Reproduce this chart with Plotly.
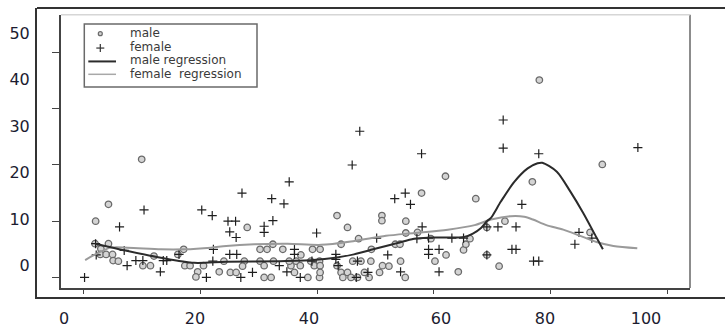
import plotly.graph_objects as go

W, H = 725, 328

# ---------------- data ----------------
male_x = [9.9, 4.2, 2.0, 1.9, 4.2, 2.9, 2.8, 3.8, 4.9, 5.0, 5.9, 10.1, 11.4, 12.0, 16.1, 17.1, 17.3, 18.2, 19.5, 19.2, 20.5, 23.2,
          28.0, 24.0, 25.1, 26.1, 27.5, 27.2, 30.2, 31.4, 32.4, 34.1, 30.2, 32.5, 30.9, 35.5, 35.2, 36.4, 37.1, 36.1, 37.2, 30.9,
          32.1, 38.4, 40.4, 39.2, 40.5, 38.9, 40.4, 39.5, 40.5, 40.5, 43.4, 45.2, 44.1, 43.4, 44.1, 45.2, 44.4, 45.8, 46.9, 47.1,
          46.1, 47.5, 48.1, 49.3, 49.2, 48.9, 50.7, 51.1, 51.1, 51.2,
          62.0, 57.9, 67.2, 55.2, 55.2, 57.2, 53.4, 54.2, 54.3, 52.3, 55.1, 60.2, 62.1, 65.1, 65.5, 66.2, 64.2, 69.1, 69.1, 72.2,
          71.2, 76.9, 88.9, 78.1, 86.8, 59.5]
male_y = [21.0, 13.0, 10.0, 6.0, 6.0, 5.1, 4.1, 4.1, 4.1, 3.0, 2.9, 2.1, 2.1, 3.8, 4.1, 5.0, 2.1, 2.1, 1.0, 0.1, 2.1, 1.0,
          8.9, 2.9, 0.9, 0.9, 2.9, 2.0, 5.0, 5.0, 5.9, 5.0, 2.9, 2.9, 2.1, 2.1, 2.9, 2.9, 2.1, 0.9, 4.0, 0.0,
          0.0, 0.0, 0.0, 5.0, 5.0, 2.9, 2.9, 2.1, 2.1, 0.9, 11.0, 8.9, 5.9, 2.1, 0.9, 0.9, 0.0, 0.0, 0.0, 6.9,
          2.9, 2.9, 0.9, 5.0, 2.9, 0.0, 0.9, 11.0, 10.1, 2.1,
          18.0, 15.0, 14.0, 10.0, 7.9, 8.0, 5.9, 5.9, 2.9, 2.0, 0.0, 2.9, 4.0, 4.9, 5.9, 6.9, 1.0, 8.9, 4.0, 10.0,
          2.0, 17.0, 20.1, 35.1, 8.0, 6.9]

female_x = [0.1, 2.0, 2.1, 6.1, 6.9, 7.4, 8.9, 10.1, 10.3, 13.1, 13.6, 14.2, 16.3, 20.2, 22.0, 21.0, 22.1, 22.2,
            24.7, 26.0, 25.0, 26.1, 25.0, 26.2, 26.9, 27.1, 28.9, 30.9, 30.9, 32.2, 32.4, 33.5, 34.3, 34.8, 35.2, 36.1,
            36.1, 37.1, 39.9, 43.2, 43.2, 46.0, 46.7, 47.3, 48.7, 50.2, 46.9, 39.1, 43.6,
            53.3, 55.1, 56.0, 57.9, 58.0, 52.1, 54.3, 57.1, 59.1, 63.1, 65.1, 59.1, 60.9, 59.1, 60.9, 69.1, 69.1, 71.0,
            74.1, 71.9, 71.9, 73.4, 74.1, 75.1, 77.1, 78.0, 78.0, 84.2, 84.9, 87.1, 95.0]
female_y = [0.0, 6.0, 4.0, 9.0, 4.8, 2.1, 3.0, 3.0, 12.0, 1.0, 3.0, 3.0, 4.1, 12.0, 11.0, 0.0, 2.9, 5.0,
            10.0, 10.0, 8.1, 7.1, 4.1, 4.1, 0.0, 15.0, 0.9, 9.1, 8.0, 14.0, 10.1, 2.1, 13.1, 1.0, 17.0, 5.0,
            4.1, 0.0, 7.9, 4.1, 3.2, 20.0, 0.0, 26.0, 0.9, 7.0, 2.9, 2.9, 2.1,
            14.0, 15.0, 13.0, 22.0, 9.0, 4.0, 1.0, 6.9, 7.0, 7.0, 7.0, 5.0, 5.0, 4.1, 1.0, 4.0, 9.0, 9.0,
            9.0, 23.0, 28.0, 5.0, 5.0, 13.0, 2.9, 2.9, 22.0, 5.9, 8.0, 7.0, 23.1]

male_reg_x = [1.9, 7.5, 13.2, 18.9, 24.4, 33.6, 39.3, 43.1, 46.3, 49.6, 51.8, 53.7, 56.6, 59.5, 65.2, 66.7, 68.1,
              69.1, 69.8, 71.5, 73.8, 76.1, 77.8, 78.6, 81.1, 83.4, 85.6, 87.9, 89.0]
male_reg_y = [6.0, 4.7, 3.5, 2.6, 2.8, 2.9, 3.1, 3.5, 4.1, 5.0, 5.6, 6.1, 6.9, 7.1, 7.2, 7.8, 8.8,
              10.0, 10.6, 13.5, 17.0, 19.4, 20.3, 20.4, 18.8, 15.3, 11.5, 7.1, 5.0]

female_reg_x = [0.2, 2.1, 4.6, 7.5, 13.2, 17.2, 21.8, 24.4, 29.2, 34.9, 40.7, 46.4, 51.8, 56.7, 62.4, 67.0, 69.8,
                73.2, 75.5, 77.0, 79.3, 82.2, 85.1, 87.9, 90.8, 94.9]
female_reg_y = [3.1, 4.2, 5.3, 5.3, 5.0, 5.0, 5.3, 5.6, 5.9, 6.0, 5.8, 6.5, 7.4, 7.9, 8.5, 9.3, 10.3,
                10.9, 10.8, 10.3, 9.3, 8.5, 7.4, 6.3, 5.6, 5.2]

x_tick_labels = ["0", "20", "40", "60", "80", "100"]
y_tick_values = [0, 10, 20, 30, 40, 50]
y_tick_labels = ["0", "10", "20", "30", "40", "50"]
inner_x_ticks = [0, 20, 40, 60, 80, 100]
inner_y_ticks = [0, 10, 20, 30, 40]
legend_labels = ["male", "female", "male regression", "female\u00a0 regression"]

# ---------------- layout helpers (pixel -> paper) ----------------
def px(x):
    return x / W

def py(y):
    return 1 - y / H

OUTER_X_LABEL_PX = [64, 195, 309, 441, 545, 646]
FONT = "DejaVu Sans"

fig = go.Figure()
fig.add_trace(go.Scatter(x=male_x, y=male_y, mode="markers", name="male", showlegend=False,
                         marker=dict(symbol="circle", size=6.5, color="#d4d4d4",
                                     line=dict(color="#6a6a6a", width=1.3))))
fig.add_trace(go.Scatter(x=female_x, y=female_y, mode="markers", name="female", showlegend=False,
                         marker=dict(symbol="cross-thin", size=6.5, color="#1e1e1e",
                                     line=dict(color="#1e1e1e", width=1.2))))
fig.add_trace(go.Scatter(x=female_reg_x, y=female_reg_y, mode="lines", name="female regression",
                         showlegend=False, line=dict(color="#9a9a9a", width=2, shape="spline", smoothing=0.8)))
fig.add_trace(go.Scatter(x=male_reg_x, y=male_reg_y, mode="lines", name="male regression",
                         showlegend=False, line=dict(color="#2b2b2b", width=2, shape="spline", smoothing=0.8)))
# empty trace for the outer (label) axes
fig.add_trace(go.Scatter(x=[], y=[], xaxis="x2", yaxis="y2", showlegend=False))

legend_y_px = [33.5, 47.0, 60.5, 75.0]

shapes = [
    # outer top line
    dict(type="line", xref="x2 domain", yref="y2 domain", x0=0, x1=1, y0=1, y1=1,
         line=dict(color="#333333", width=2)),
    # inner right and top lines
    dict(type="line", xref="x domain", yref="y domain", x0=1, x1=1, y0=0, y1=1,
         line=dict(color="#8c8c8c", width=2)),
    dict(type="line", xref="x domain", yref="y domain", x0=0, x1=1, y0=1, y1=1,
         line=dict(color="#d6d6d6", width=1.5)),
    # legend box
    dict(type="rect", xref="paper", yref="paper", x0=px(84.3), x1=px(257), y0=py(87.7), y1=py(24.3),
         line=dict(color="#6a6a6a", width=1.5), fillcolor="white"),
    # legend glyphs
    dict(type="circle", xref="paper", yref="paper", x0=px(98.3), x1=px(102.3),
         y0=py(legend_y_px[0] + 2.5), y1=py(legend_y_px[0] - 1.5),
         line=dict(color="#6a6a6a", width=1.2), fillcolor="#d2d2d2"),
    dict(type="line", xref="paper", yref="paper", x0=px(96.3), x1=px(104.3),
         y0=py(legend_y_px[1] + 1.5), y1=py(legend_y_px[1] + 1.5),
         line=dict(color="#333333", width=1.2)),
    dict(type="line", xref="paper", yref="paper", x0=px(100.3), x1=px(100.3),
         y0=py(legend_y_px[1] - 2.5), y1=py(legend_y_px[1] + 5.5),
         line=dict(color="#333333", width=1.2)),
    dict(type="line", xref="paper", yref="paper", x0=px(88.3), x1=px(116),
         y0=py(legend_y_px[2] + 1.5), y1=py(legend_y_px[2] + 1.5),
         line=dict(color="#2b2b2b", width=2)),
    dict(type="line", xref="paper", yref="paper", x0=px(88.3), x1=px(116),
         y0=py(legend_y_px[3]), y1=py(legend_y_px[3]),
         line=dict(color="#a8a8a8", width=1.5)),
]

annotations = [dict(xref="paper", yref="paper", x=px(129), y=py(yc), text=t, showarrow=False,
                    xanchor="left", yanchor="middle", borderpad=0,
                    font=dict(family=FONT, size=12, color="#3a3a3a"))
               for t, yc in zip(legend_labels, legend_y_px)]

fig.update_layout(
    width=W, height=H, margin=dict(l=0, r=0, t=0, b=0),
    paper_bgcolor="white", plot_bgcolor="rgba(0,0,0,0)",
    showlegend=False,
    xaxis=dict(domain=[px(61), px(690)], range=[-3.94, 103.94], anchor="y",
               showline=True, linecolor="#444444", linewidth=1.5, ticks="outside", ticklen=4,
               tickcolor="#444444", tickvals=inner_x_ticks, showticklabels=False,
               showgrid=False, zeroline=False),
    yaxis=dict(domain=[py(290.7), py(15)], range=[-1.885, 46.70], anchor="x",
               showline=True, linecolor="#444444", linewidth=1.5, ticks="outside", ticklen=7,
               tickcolor="#444444", tickvals=inner_y_ticks, showticklabels=False,
               showgrid=False, zeroline=False),
    xaxis2=dict(domain=[px(37), 1], range=[37, 725], anchor="y2",
                showline=True, linecolor="#333333", linewidth=2, ticks="",
                tickvals=OUTER_X_LABEL_PX, ticktext=x_tick_labels,
                tickfont=dict(family=FONT, size=16, color="#1c1c30"),
                ticklabelstandoff=6, showgrid=False, zeroline=False),
    yaxis2=dict(domain=[py(300), py(8)], range=[-6.745, 55.38], anchor="x2",
                showline=True, linecolor="#333333", linewidth=2, ticks="",
                tickvals=y_tick_values, ticktext=y_tick_labels,
                tickfont=dict(family=FONT, size=16, color="#1c1c30"),
                ticklabelstandoff=2, showgrid=False, zeroline=False),
    shapes=shapes,
    annotations=annotations,
)

fig.write_html("out.html")
